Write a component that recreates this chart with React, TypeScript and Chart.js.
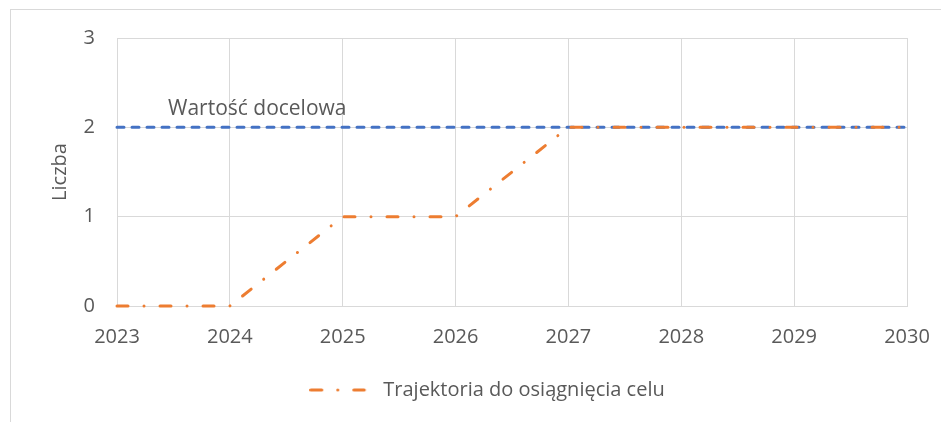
import { useEffect, useRef } from "react";
import { Chart, registerables } from "chart.js";

Chart.register(...registerables);

// ---- data ----
const years = [2023, 2024, 2025, 2026, 2027, 2028, 2029, 2030];
const trajectory = [0, 0, 1, 1, 2, 2, 2, 2];
const target = [2, 2, 2, 2, 2, 2, 2, 2];
const yRange = [0, 3];
const seriesLabels = ["Trajektoria do osiągnięcia celu", "Wartość docelowa"];
const yTitle = "Liczba";

// ---- styles ----
const ORANGE = "#ED7D31";
const BLUE = "#4472C4";
const GRID = "#D9D9D9";
const TEXT = "#595959";
const FONT = "'Open Sans', 'Noto Sans', sans-serif";
const ORANGE_DASH = [11, 16, 0.01, 16];
const BLUE_DASH = [7, 8];

function makeLegendSample(): HTMLCanvasElement {
  const c = document.createElement("canvas");
  c.width = 64;
  c.height = 6;
  const g = c.getContext("2d")!;
  g.strokeStyle = ORANGE;
  g.lineWidth = 3;
  g.lineCap = "round";
  g.setLineDash(ORANGE_DASH);
  g.beginPath();
  g.moveTo(1.5, 3);
  g.lineTo(55, 3);
  g.stroke();
  return c;
}

export default function App() {
  const ref = useRef<HTMLCanvasElement>(null);

  useEffect(() => {
    document.body.style.overflow = "hidden";
    const sample = makeLegendSample();

    const targetLabel = {
      id: "targetLabel",
      afterDatasetsDraw(chart: any) {
        const { ctx, scales } = chart;
        const x = scales.x;
        const y = scales.y;
        ctx.save();
        ctx.font = `21px ${FONT}`;
        ctx.fillStyle = TEXT;
        ctx.textAlign = "left";
        ctx.textBaseline = "alphabetic";
        ctx.fillText(
          seriesLabels[1],
          x.getPixelForValue(years[0]) + 51,
          y.getPixelForValue(target[0]) - 12
        );
        ctx.restore();
      },
    };

    const chart = new Chart(ref.current!, {
      type: "line",
      data: {
        datasets: [
          {
            label: seriesLabels[0],
            data: years.map((x, i) => ({ x, y: trajectory[i] })),
            borderColor: ORANGE,
            backgroundColor: ORANGE,
            borderWidth: 3,
            borderDash: ORANGE_DASH,
            borderCapStyle: "round",
            pointRadius: 0,
            tension: 0,
            clip: false as any,
            pointStyle: sample as any,
          },
          {
            label: seriesLabels[1],
            data: years.map((x, i) => ({ x, y: target[i] })),
            borderColor: BLUE,
            backgroundColor: BLUE,
            borderWidth: 3,
            borderDash: BLUE_DASH,
            borderCapStyle: "round",
            pointRadius: 0,
            tension: 0,
            clip: false as any,
          },
        ],
      },
      options: {
        responsive: false,
        animation: false,
        events: [],
        layout: { padding: { top: 28, left: 14, right: 0, bottom: 12 } },
        plugins: {
          legend: {
            position: "bottom",
            labels: {
              filter: (item: any) => item.datasetIndex === 0,
              usePointStyle: true,
              pointStyle: sample as any,
              pointStyleWidth: 64,
              padding: 10,
              color: TEXT,
              font: { size: 20, family: FONT },
            },
          },
          tooltip: { enabled: false },
        },
        scales: {
          x: {
            type: "linear",
            min: years[0],
            max: years[years.length - 1],
            ticks: {
              stepSize: 1,
              callback: (v: any) => String(v),
              padding: 19,
              color: TEXT,
              font: { size: 20, family: FONT },
            },
            grid: { color: GRID, drawTicks: false, lineWidth: 1 },
            border: { color: GRID },
            afterFit: (s: any) => {
              s.height = 64;
            },
          },
          y: {
            type: "linear",
            min: yRange[0],
            max: yRange[1],
            ticks: {
              stepSize: 1,
              padding: 16,
              color: TEXT,
              font: { size: 20, family: FONT },
            },
            grid: {
              color: GRID,
              drawTicks: true,
              tickLength: 6,
              tickColor: "rgba(0,0,0,0)",
              lineWidth: 1,
            },
            border: { display: false },
            title: {
              display: true,
              text: yTitle,
              color: TEXT,
              font: { size: 20, family: FONT },
              padding: { top: 23, bottom: 0 },
            },
            afterFit: (s: any) => {
              s.width = 92;
            },
          },
          y2: {
            type: "linear",
            position: "right",
            display: true,
            grid: { display: false, drawTicks: false },
            ticks: { display: false },
            border: { display: false },
            afterFit: (s: any) => {
              s.width = 42;
            },
          },
        },
      },
      plugins: [targetLabel],
    });

    return () => chart.destroy();
  }, []);

  return (
    <div
      style={{
        position: "relative",
        top: 1,
        marginLeft: 2,
        width: 938,
        height: 420,
        borderTop: `1px solid ${GRID}`,
        borderLeft: `1px solid ${GRID}`,
        background: "#fff",
      }}
    >
      <canvas ref={ref} width={938} height={412} style={{ display: "block" }} />
    </div>
  );
}
